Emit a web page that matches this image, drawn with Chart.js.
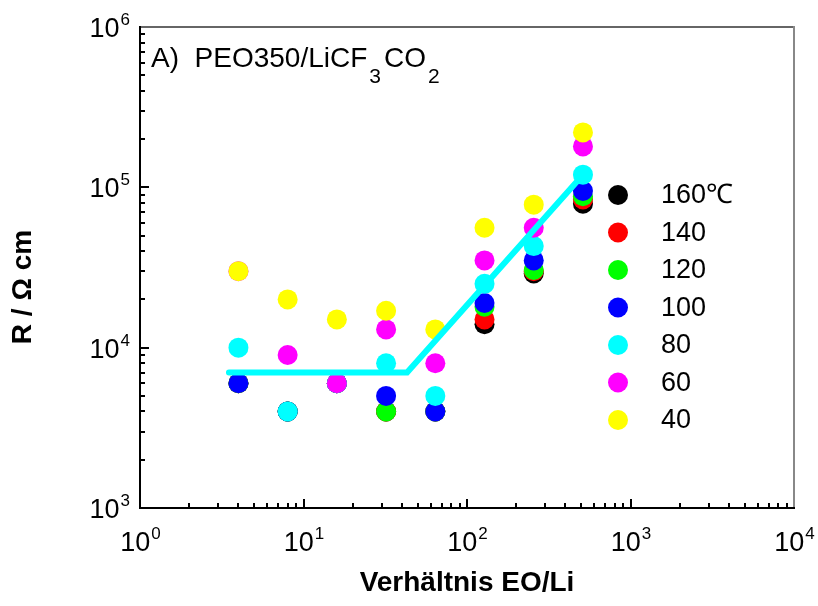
<!DOCTYPE html>
<html>
<head>
<meta charset="utf-8">
<script src="https://cdn.jsdelivr.net/npm/chart.js@4.4.1/dist/chart.umd.min.js"></script>
<style>
    html, body { margin: 0; padding: 0; background: #fff; }
    #wrap { width: 818px; height: 606px; position: relative; }
</style>
</head>
<body>
<div id="wrap"><canvas id="chart"></canvas></div>
<script>
// EO/Li ratio (x) and resistivity R / Ohm cm for each temperature
const ratio = [4, 8, 16, 32, 64, 128, 256, 512];
const temps = ['160℃', '140', '120', '100', '80', '60', '40'];
const colors = ['#000000', '#ff0000', '#00ff00', '#0000ff', '#00ffff', '#ff00ff', '#ffff00'];

const r160 = [6000, 4000, 6000, 4000, 4000, 14000, 29000, 79000];
const r140 = [6000, 4000, 6000, 4000, 4000, 15000, 30000, 84000];
const r120 = [6000, 4000, 6000, 4000, 4000, 18000, 30500, 88000];
const r100 = [6000, 4000, 6000, 5000, 4000, 19000, 35000, 95000];
const r80 = [10000, 4000, 6000, 8000, 5000, 25000, 43000, 120000];
const r60 = [30000, 9000, 6000, 13000, 8000, 35000, 56000, 180000];
const r40 = [30000, 20000, 15000, 17000, 13000, 56000, 78000, 220000];
const series = [r160, r140, r120, r100, r80, r60, r40];

// guide line through the 80 degree data
const fitRatio = [3.5, 43, 512];
const fitR = [7000, 7000, 120000];

const xExp = [0, 1, 2, 3, 4];
const yExp = [3, 4, 5, 6];

const FONT = "'Liberation Sans', Arial, sans-serif";

function powerLabel(ctx, exp, x, y, align) {
    ctx.font = '27px ' + FONT;
    const w1 = ctx.measureText('10').width;
    ctx.font = '17px ' + FONT;
    const w2 = ctx.measureText(String(exp)).width;
    const x0 = align === 'center' ? x - (w1 + w2) / 2 : x - (w1 + w2);
    ctx.font = '27px ' + FONT;
    ctx.fillText('10', x0, y);
    ctx.font = '17px ' + FONT;
    ctx.fillText(String(exp), x0 + w1 + 1, y - 12);
}

const decorPlugin = {
    id: 'decor',
    afterDraw(chart) {
        const ctx = chart.ctx;
        const {left, right, top, bottom} = chart.chartArea;
        const xs = chart.scales.x;
        const ys = chart.scales.y;
        ctx.save();

        // frame
        ctx.lineCap = 'square';
        ctx.strokeStyle = '#333333';
        ctx.lineWidth = 1.5;
        ctx.beginPath(); ctx.moveTo(left, top); ctx.lineTo(right, top); ctx.stroke();
        ctx.strokeStyle = '#888888';
        ctx.lineWidth = 2;
        ctx.beginPath(); ctx.moveTo(right, top); ctx.lineTo(right, bottom); ctx.stroke();
        ctx.strokeStyle = '#000000';
        ctx.beginPath(); ctx.moveTo(left, top); ctx.lineTo(left, bottom); ctx.lineTo(right, bottom); ctx.stroke();

        // inward ticks
        ctx.lineCap = 'butt';
        ctx.lineWidth = 2;
        ctx.beginPath();
        for (let e = 0; e < 4; e++) {
            for (let m = 1; m <= 9; m++) {
                const px = Math.round(xs.getPixelForValue(m * Math.pow(10, e)));
                const len = m === 1 ? 9 : 5;
                ctx.moveTo(px, bottom); ctx.lineTo(px, bottom - len);
            }
        }
        for (let e = 3; e < 6; e++) {
            for (let m = 1; m <= 9; m++) {
                const py = Math.round(ys.getPixelForValue(m * Math.pow(10, e)));
                const len = m === 1 ? 9 : 5;
                ctx.moveTo(left, py); ctx.lineTo(left + len, py);
            }
        }
        ctx.stroke();

        // tick labels
        ctx.fillStyle = '#000';
        ctx.textAlign = 'left';
        ctx.textBaseline = 'alphabetic';
        xExp.forEach(e => powerLabel(ctx, e, xs.getPixelForValue(Math.pow(10, e)), 551, 'center'));
        yExp.forEach(e => powerLabel(ctx, e, 129, ys.getPixelForValue(Math.pow(10, e)) + 10, 'right'));

        // axis titles
        ctx.font = 'bold 28px ' + FONT;
        ctx.textAlign = 'center';
        ctx.textBaseline = 'middle';
        ctx.fillText('Verhältnis EO/Li', (left + right) / 2, 583);
        ctx.save();
        ctx.translate(23, 287);
        ctx.rotate(-Math.PI / 2);
        ctx.fillText('R / Ω cm', 0, 0);
        ctx.restore();

        // panel title with subscripts
        ctx.textAlign = 'left';
        ctx.textBaseline = 'alphabetic';
        let tx = 151;
        const parts = [['A)  PEO350/LiCF', 0], ['3', 1], ['CO', 0], ['2', 1]];
        parts.forEach(([s, sub]) => {
            ctx.font = (sub ? '21px ' : '28px ') + FONT;
            ctx.fillText(s, tx + (sub ? 2 : 0), sub ? 83 : 67);
            tx += ctx.measureText(s).width + (sub ? 5 : 0);
        });

        // legend
        ctx.font = '27px ' + FONT;
        ctx.textBaseline = 'middle';
        temps.forEach((t, i) => {
            const y = 195 + i * 37.5;
            ctx.fillStyle = colors[i];
            ctx.beginPath(); ctx.arc(618, y, 10, 0, Math.PI * 2); ctx.fill();
            ctx.fillStyle = '#000';
            ctx.fillText(t, 661, y + 1);
        });

        ctx.restore();
    }
};

const datasets = series.map((vals, i) => ({
    label: temps[i],
    data: ratio.map((x, j) => ({x: x, y: vals[j]})),
    backgroundColor: colors[i],
    borderWidth: 0,
    pointRadius: 10,
    pointHoverRadius: 10,
    order: 7 - i
}));

datasets.push({
    label: 'fit',
    data: fitRatio.map((x, j) => ({x: x, y: fitR[j]})),
    showLine: true,
    borderColor: '#00ffff',
    borderWidth: 6,
    borderCapStyle: 'round',
    borderJoinStyle: 'miter',
    pointRadius: 0,
    order: 0
});

new Chart(document.getElementById('chart'), {
    type: 'scatter',
    data: {datasets: datasets},
    options: {
        responsive: true,
        maintainAspectRatio: false,
        animation: false,
        devicePixelRatio: 1,
        layout: {padding: {left: 0, right: 24, top: 27, bottom: 0}},
        plugins: {
            legend: {display: false},
            tooltip: {enabled: false}
        },
        scales: {
            x: {
                type: 'logarithmic',
                min: 1,
                max: 10000,
                grid: {display: false},
                border: {display: false},
                ticks: {display: false},
                afterFit: scale => { scale.height = 98; }
            },
            y: {
                type: 'logarithmic',
                min: 1000,
                max: 1000000,
                grid: {display: false},
                border: {display: false},
                ticks: {display: false},
                afterFit: scale => { scale.width = 140; }
            }
        }
    },
    plugins: [decorPlugin]
});
</script>
</body>
</html>
